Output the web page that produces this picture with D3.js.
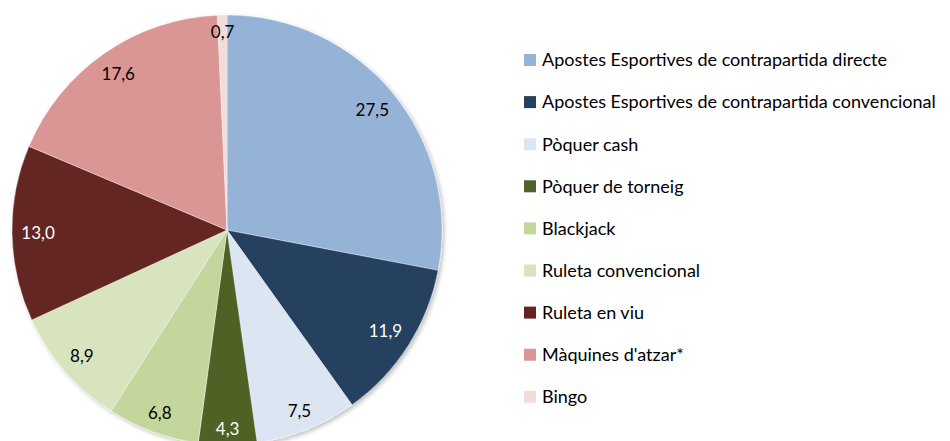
<!DOCTYPE html>
<html>
<head>
<meta charset="utf-8">
<script src="https://cdn.jsdelivr.net/npm/d3@7"></script>
<style>
  body { margin: 0; background: #fff; }
  svg { display: block; font-family: Lato, "Open Sans", sans-serif; }
</style>
</head>
<body>
<svg id="chart"></svg>
<script>
// categories, values and colours
var categories = [
    "Apostes Esportives de contrapartida directe",
    "Apostes Esportives de contrapartida convencional",
    "Pòquer cash",
    "Pòquer de torneig",
    "Blackjack",
    "Ruleta convencional",
    "Ruleta en viu",
    "Màquines d'atzar*",
    "Bingo"
];
var values = [27.5, 11.9, 7.5, 4.3, 6.8, 8.9, 13.0, 17.6, 0.7];
var colors = ["#95b3d7", "#254061", "#dce6f2", "#4f6228", "#c3d69b", "#d7e4bd", "#632523", "#d99694", "#f2dcdb"];
var labelColors = ["#000", "#fff", "#000", "#fff", "#000", "#000", "#fff", "#000", "#000"];

var svgWidth = 950, svgHeight = 441;
var cx = 227, cy = 230, radius = 215;

var svg = d3.select("#chart")
    .attr("width", svgWidth)
    .attr("height", svgHeight);

var defs = svg.append("defs");
var shadow = defs.append("filter").attr("id", "shadow")
    .attr("x", "-10%").attr("y", "-10%").attr("width", "120%").attr("height", "120%");
shadow.append("feDropShadow")
    .attr("dx", 2).attr("dy", 2).attr("stdDeviation", 2)
    .attr("flood-color", "#000").attr("flood-opacity", 0.25);

var data = categories.map(function(c, i) {
    return { name: c, value: values[i], color: colors[i], labelColor: labelColors[i] };
});

var pie = d3.pie()
    .sort(null)
    .value(function(d) { return d.value; });

var arc = d3.arc()
    .innerRadius(0)
    .outerRadius(radius);

var g = svg.append("g")
    .attr("transform", "translate(" + cx + "," + cy + ")");

var arcs = pie(data);

g.append("g")
    .attr("filter", "url(#shadow)")
    .selectAll("path")
    .data(arcs)
    .enter()
    .append("path")
    .attr("d", arc)
    .attr("fill", function(d) { return d.data.color; })
    .attr("stroke", "#fff")
    .attr("stroke-width", 0.4);

var fmt = function(v) { return d3.format(".1f")(v).replace(".", ","); };

// "inside end" labels: push the text box out until its far corner nears the rim
var labels = g.selectAll("text.lbl")
    .data(arcs)
    .enter()
    .append("text")
    .attr("class", "lbl")
    .attr("text-anchor", "middle")
    .attr("dy", "0.35em")
    .style("font-size", "17px")
    .attr("fill", function(d) { return d.data.labelColor; })
    .text(function(d) { return fmt(d.data.value); });

labels.each(function(d) {
    var bb = this.getBBox();
    var w = bb.width / 2, h = 7;
    var a = (d.startAngle + d.endAngle) / 2;
    var sx = Math.sin(a), sy = -Math.cos(a);
    var target = radius - 9;
    var r = target;
    for (var k = 0; k < 40; k++) {
        var fx = Math.abs(r * sx) + w, fy = Math.abs(r * sy) + h;
        var dist = Math.sqrt(fx * fx + fy * fy);
        r += (target - dist) * 0.5;
    }
    d3.select(this).attr("x", r * sx).attr("y", r * sy);
});

// legend
var legend = svg.append("g")
    .attr("transform", "translate(524,60)");

var rows = legend.selectAll("g")
    .data(data)
    .enter()
    .append("g")
    .attr("transform", function(d, i) { return "translate(0," + (i * 42.1) + ")"; });

rows.append("rect")
    .attr("x", 0)
    .attr("y", -6)
    .attr("width", 12)
    .attr("height", 12)
    .attr("fill", function(d) { return d.color; });

rows.append("text")
    .attr("x", 18)
    .attr("dy", "0.35em")
    .style("font-size", "18px")
    .attr("fill", "#000")
    .text(function(d) { return d.name; });
</script>
</body>
</html>
